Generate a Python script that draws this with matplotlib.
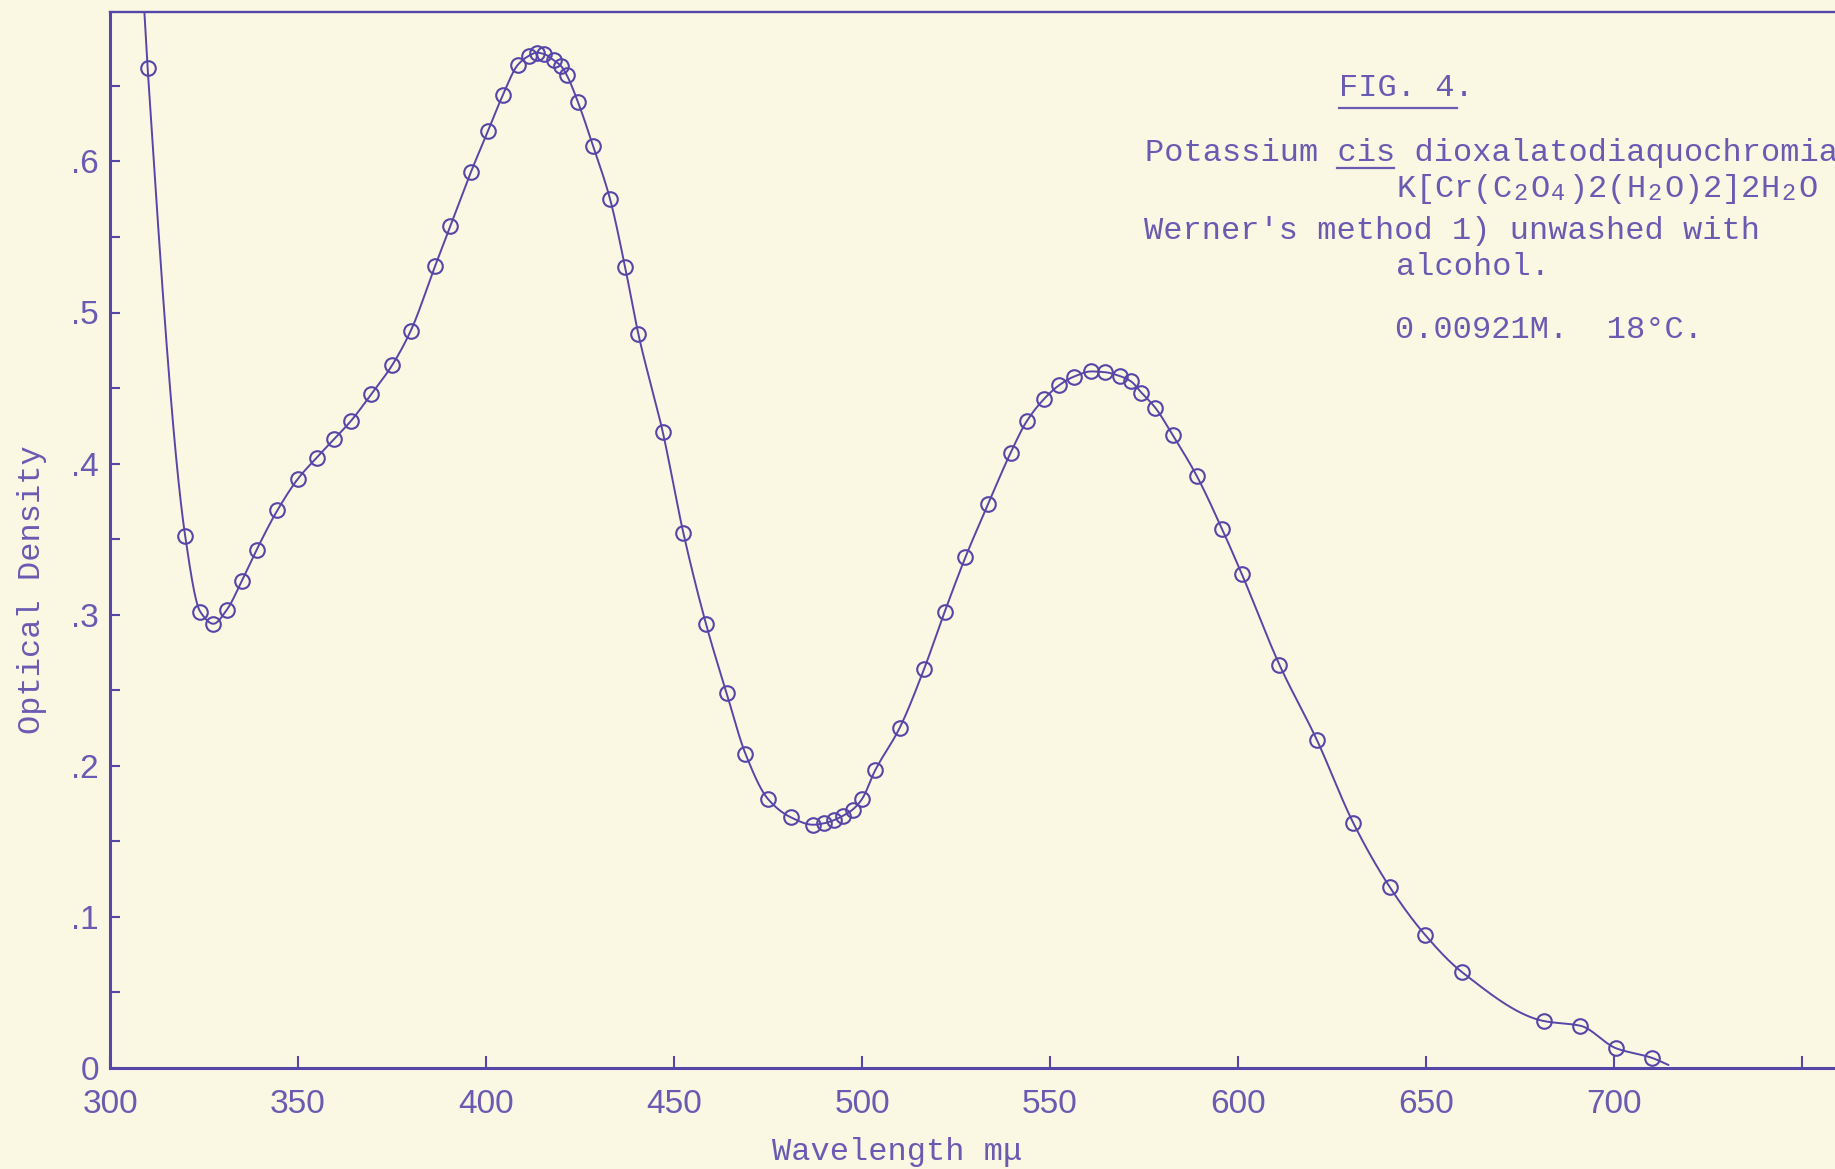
import numpy as np
import matplotlib
matplotlib.use("Agg")
import matplotlib.pyplot as plt
from matplotlib.lines import Line2D

# ---------------- data ----------------
wavelength = [310, 320, 324, 327.5, 331, 335, 339, 344.5, 350, 355, 359.5, 364,
              369.5, 375, 380, 386.5, 390.5, 396, 400.5, 404.5, 408.5, 411.5,
              413.5, 415.5, 418, 420, 421.5, 424.5, 428.5, 433, 437, 440.5, 447,
              452.5, 458.5, 464, 469, 475, 481, 487, 490, 492.5, 495, 497.5, 500,
              503.5, 510, 516.5, 522, 527.5, 533.5, 539.5, 543.8, 548.5, 552.5,
              556.3, 561, 564.6, 568.5, 571.5, 574.3, 578, 582.6, 589, 595.7, 601,
              611, 621, 630.7, 640.3, 649.8, 659.6, 681.5, 691, 700.6, 710]
optical_density = [0.662, 0.352, 0.302, 0.294, 0.303, 0.322, 0.343, 0.369, 0.390,
                   0.404, 0.416, 0.428, 0.446, 0.465, 0.488, 0.531, 0.557, 0.593,
                   0.620, 0.644, 0.664, 0.670, 0.672, 0.671, 0.667, 0.663, 0.657,
                   0.639, 0.610, 0.575, 0.530, 0.486, 0.421, 0.354, 0.294, 0.248,
                   0.208, 0.178, 0.166, 0.161, 0.162, 0.164, 0.167, 0.171, 0.178,
                   0.197, 0.225, 0.264, 0.302, 0.338, 0.373, 0.407, 0.428, 0.443,
                   0.452, 0.4575, 0.461, 0.4605, 0.458, 0.4545, 0.447, 0.437, 0.419,
                   0.392, 0.357, 0.327, 0.267, 0.217, 0.162, 0.120, 0.088, 0.0634,
                   0.031, 0.028, 0.013, 0.0068]
# ends of the drawn curve beyond the first / last measured point
curve_start = (309.0, 0.705)
curve_end = (714.5, 0.002)

x_ticks = [300, 350, 400, 450, 500, 550, 600, 650, 700, 750]
x_tick_labels = ["300", "350", "400", "450", "500", "550", "600", "650", "700", ""]
y_ticks = [0, 0.1, 0.2, 0.3, 0.4, 0.5, 0.6]
y_tick_labels = ["0", ".1", ".2", ".3", ".4", ".5", ".6"]
y_minor = [0.05, 0.15, 0.25, 0.35, 0.45, 0.55, 0.65]

# ---------------- styling ----------------
W, H = 1835, 1169
paper = "#FAF7E3"
ink = "#5646A8"
ink_text = "#6A5BB2"
mono = ["Liberation Mono", "DejaVu Sans Mono"]
hand = ["Liberation Sans Narrow", "Liberation Sans", "DejaVu Sans"]


def pchip(x, y, xn):
    x = np.asarray(x, float)
    y = np.asarray(y, float)
    h = np.diff(x)
    d = np.diff(y) / h
    m = np.zeros_like(y)
    for k in range(1, len(x) - 1):
        if d[k - 1] * d[k] > 0:
            w1 = 2 * h[k] + h[k - 1]
            w2 = h[k] + 2 * h[k - 1]
            m[k] = (w1 + w2) / (w1 / d[k - 1] + w2 / d[k])
    m[0], m[-1] = d[0], d[-1]
    idx = np.clip(np.searchsorted(x, xn) - 1, 0, len(x) - 2)
    t = (xn - x[idx]) / h[idx]
    h00 = 2 * t**3 - 3 * t**2 + 1
    h10 = t**3 - 2 * t**2 + t
    h01 = -2 * t**3 + 3 * t**2
    h11 = t**3 - t**2
    return h00 * y[idx] + h10 * h[idx] * m[idx] + h01 * y[idx + 1] + h11 * h[idx] * m[idx + 1]


fig = plt.figure(figsize=(W / 100, H / 100), dpi=100, facecolor=paper)
ax_left, ax_right, ax_top, ax_bottom = 110, W, 12, 1068
ax = fig.add_axes([ax_left / W, 1 - ax_bottom / H,
                   (ax_right - ax_left) / W, (ax_bottom - ax_top) / H])
ax.set_facecolor(paper)

# smooth curve through the measured points
cx = [curve_start[0]] + wavelength + [curve_end[0]]
cy = [curve_start[1]] + optical_density + [curve_end[1]]
xs = np.linspace(cx[0], cx[-1], 3000)
ax.plot(xs, pchip(cx, cy, xs), color=ink, lw=1.4, solid_capstyle="round")
ax.plot(wavelength, optical_density, linestyle="none", marker="o", ms=10.5,
        mfc="none", mec=ink, mew=1.5)

ax.set_xlim(300, 300 + (W - ax_left) / 3.76)
ax.set_ylim(0, (ax_bottom - ax_top) / 1511)

for s in ["left", "bottom"]:
    ax.spines[s].set_color(ink)
    ax.spines[s].set_linewidth(2.2)
ax.spines["top"].set_color(ink)
ax.spines["top"].set_linewidth(1.7)
ax.spines["right"].set_visible(False)

ax.set_xticks(x_ticks)
ax.set_xticklabels(x_tick_labels, fontfamily=hand, fontsize=24, color=ink_text)
ax.set_yticks(y_ticks)
ax.set_yticklabels(y_tick_labels, fontfamily=hand, fontsize=24, color=ink_text)
ax.set_yticks(y_minor, minor=True)
ax.tick_params(axis="x", direction="in", length=9, width=1.5, color=ink, pad=15)
ax.tick_params(axis="y", which="both", direction="in", length=7, width=1.5,
               color=ink, pad=8)


def ftext(x, y, s, size=23, **kw):
    fig.text(x / W, 1 - y / H, s, fontfamily=mono, fontsize=size,
             color=ink_text, va="center", ha=kw.pop("ha", "left"), **kw)


def uline(x0, x1, y):
    fig.add_artist(Line2D([x0 / W, x1 / W], [1 - y / H] * 2,
                          transform=fig.transFigure, color=ink_text, lw=1.6))


# axis titles
ftext(32, 590, "Optical Density", rotation=90, ha="center")
ftext(897, 1152, "Wavelength m\u03bc", ha="center")

# annotation block
pitch = 19.17
ftext(1339, 88, "FIG. 4.")
uline(1339, 1457, 108)
ftext(1145, 153, "Potassium cis dioxalatodiaquochromia")
uline(1145 + 10 * pitch, 1145 + 13 * pitch, 168)

formula = "K[Cr(C2O4)2(H2O)2]2H2O"
subs = {6, 8, 13, 20}
for i, ch in enumerate(formula):
    if i in subs:
        ftext(1396 + i * pitch + 2, 194, ch, size=17)
    else:
        ftext(1396 + i * pitch, 189, ch)

ftext(1144, 231, "Werner's method 1) unwashed with")
ftext(1396, 267, "alcohol.")
ftext(1395, 330, "0.00921M.  18\u00b0C.")

fig.savefig("out.png", dpi=100, facecolor=paper)
